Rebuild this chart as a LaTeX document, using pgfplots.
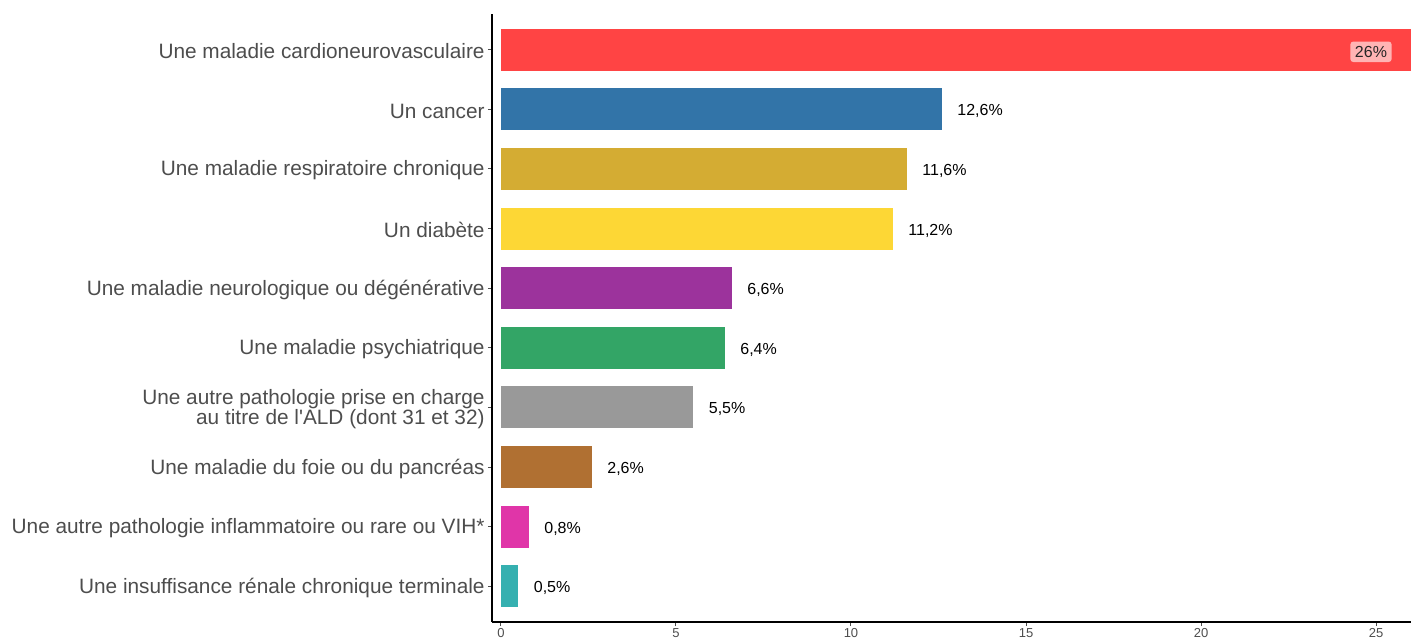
\documentclass[border=0pt]{standalone}
\usepackage{pgfplots}
\pgfplotsset{compat=1.18}
\usepackage{fontspec}
\setmainfont{Liberation Sans}
\definecolor{c1}{HTML}{FF4444}
\definecolor{c2}{HTML}{3274A8}
\definecolor{c3}{HTML}{D4AC33}
\definecolor{c4}{HTML}{FDD735}
\definecolor{c5}{HTML}{9C339C}
\definecolor{c6}{HTML}{33A566}
\definecolor{c7}{HTML}{999999}
\definecolor{c8}{HTML}{B07032}
\definecolor{c9}{HTML}{E035A8}
\definecolor{c10}{HTML}{35B0B0}
\definecolor{tickgray}{HTML}{4D4D4D}
\begin{document}
\begin{tikzpicture}
\useasboundingbox (-246pt,-8.5pt) rectangle (459.5pt,311pt);
\begin{axis}[
  scale only axis,
  width=459.5pt, height=304pt,
  xmin=-0.257, xmax=26,
  ymin=0.4, ymax=10.6,
  xbar, bar width=21pt, bar shift=0pt,
  axis x line*=bottom, axis y line*=left,
  axis line style={-, black, line width=0.9pt},
  xtick={0,5,10,15,20,25},
  ytick={1,...,10},
  yticklabels={
    {Une insuffisance rénale chronique terminale},
    {Une autre pathologie inflammatoire ou rare ou VIH*},
    {Une maladie du foie ou du pancréas},
    {Une autre pathologie prise en charge\\au titre de l\textquotesingle ALD (dont 31 et 32)},
    {Une maladie psychiatrique},
    {Une maladie neurologique ou dégénérative},
    {Un diabète},
    {Une maladie respiratoire chronique},
    {Un cancer},
    {Une maladie cardioneurovasculaire}},
  tick align=outside,
  major tick length=2pt,
  tick style={tickgray, line width=0.5pt},
  yticklabel style={font=\fontsize{10.4}{10.4}\selectfont, text=tickgray, align=right, inner sep=0pt, xshift=-1.5pt, yshift=-0.8pt},
  xticklabel style={font=\fontsize{6.5}{7}\selectfont, text=tickgray, inner sep=0pt, yshift=-1pt},
  /pgf/number format/assume math mode=true,
  nodes near coords,
  point meta=explicit symbolic,
  every node near coord/.append style={anchor=west, inner sep=0pt, xshift=7.5pt, yshift=-1pt, font=\fontsize{8}{8}\selectfont, text=black},
  clip=false,
]
\addplot[fill=c1, draw=none, every node near coord/.append style={anchor=east, xshift=-17pt, fill=white, fill opacity=0.6, text opacity=1, rounded corners=1.5pt, inner sep=2.3pt, text=black!85}] coordinates {(26,10) [26\%]};
\addplot[fill=c2, draw=none] coordinates {(12.6,9) [12,6\%]};
\addplot[fill=c3, draw=none] coordinates {(11.6,8) [11,6\%]};
\addplot[fill=c4, draw=none] coordinates {(11.2,7) [11,2\%]};
\addplot[fill=c5, draw=none] coordinates {(6.6,6) [6,6\%]};
\addplot[fill=c6, draw=none] coordinates {(6.4,5) [6,4\%]};
\addplot[fill=c7, draw=none] coordinates {(5.5,4) [5,5\%]};
\addplot[fill=c8, draw=none] coordinates {(2.6,3) [2,6\%]};
\addplot[fill=c9, draw=none] coordinates {(0.8,2) [0,8\%]};
\addplot[fill=c10, draw=none] coordinates {(0.5,1) [0,5\%]};
\end{axis}
\end{tikzpicture}
\end{document}
